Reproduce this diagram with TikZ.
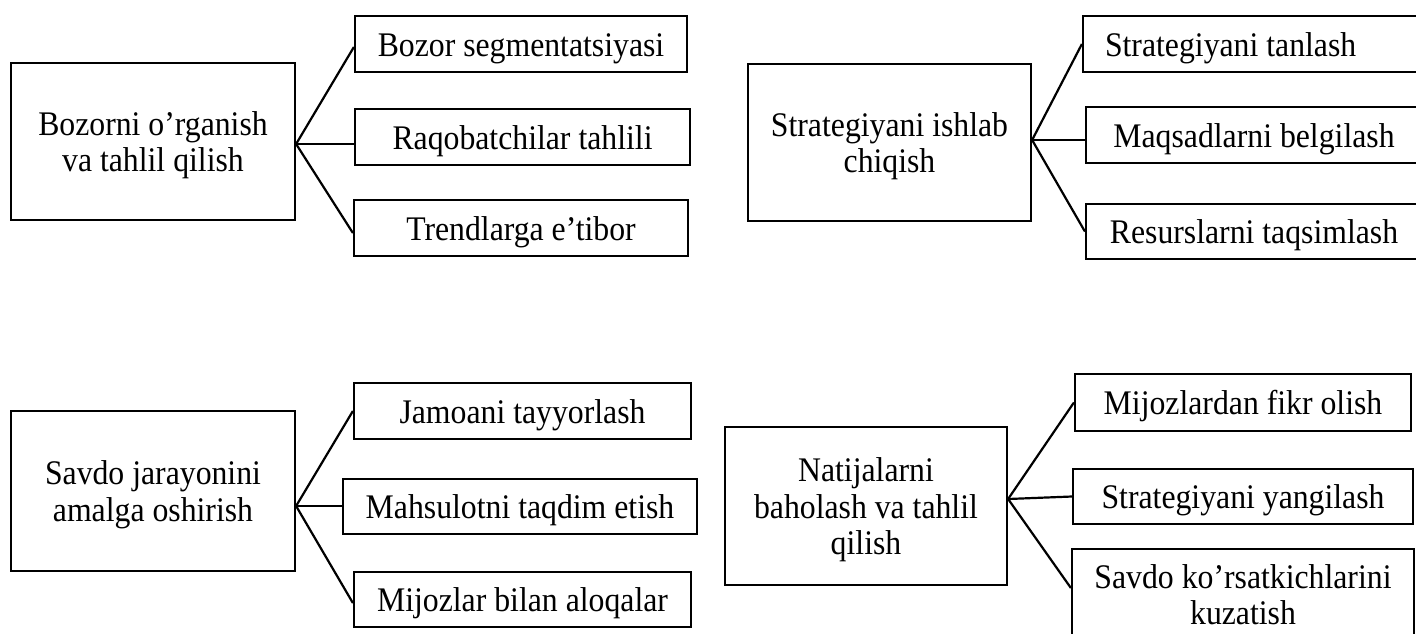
\documentclass[tikz,border=0pt]{standalone}
\usepackage{fontspec}
\setmainfont{Liberation Serif}[FakeStretch=0.92]
\begin{document}
\begin{tikzpicture}[x=0.5pt,y=-0.5pt,
  box/.style={draw, line width=1.1pt, inner sep=0pt, align=center,
    text height=14pt, text depth=2pt, font=\fontsize{17.25pt}{18.25pt}\selectfont},
  twoline/.style={text height=32.25pt},
  threeline/.style={text height=50.5pt},
  link/.style={line width=1.1pt}]
\useasboundingbox (0,0) rectangle (1416,633);
\fill[white] (0,0) rectangle (1416,633);
\clip (0,0) rectangle (1416,633);

% Panel 1
\node[box, twoline, minimum width=142pt, minimum height=78.5pt] (M1) at (153,141.5) {Bozorni o’rganish\\va tahlil qilish};
\node[box, minimum width=166pt, minimum height=28pt] (A1) at (521,44) {Bozor segmentatsiyasi};
\node[box, minimum width=167.5pt, minimum height=28pt] (A2) at (522.5,137) {Raqobatchilar tahlili};
\node[box, minimum width=167pt, minimum height=28pt] (A3) at (521,228) {Trendlarga e’tibor};
\coordinate (J1) at ([yshift=-1.25pt]M1.east);
\draw[link] (J1) -- ([yshift=-1.5pt]A1.west);
\draw[link] (J1) -- (J1 -| A2.west);
\draw[link] (J1) -- ([yshift=-2.5pt]A3.west);

% Panel 2
\node[box, twoline, minimum width=141.5pt, minimum height=78.5pt] (M2) at (889.5,142.5) {Strategiyani ishlab\\chiqish};
\node[box, inner xsep=11pt, minimum height=28pt] (B1) at (1253,44) {\makebox[148pt][l]{Strategiyani tanlash}};
\node[box, minimum width=168pt, minimum height=28pt] (B2) at (1254,135) {Maqsadlarni belgilash};
\node[box, minimum width=168pt, minimum height=27.5pt] (B3) at (1254,231.5) {Resurslarni taqsimlash};
\coordinate (J2) at ([yshift=1.25pt]M2.east);
\draw[link] (J2) -- (B1.west);
\draw[link] (J2) -- (J2 -| B2.west);
\draw[link] (J2) -- (B3.west);

% Panel 3
\node[box, twoline, minimum width=142pt, minimum height=80pt] (M3) at (153,491) {Savdo jarayonini\\amalga oshirish};
\node[box, minimum width=168.5pt, minimum height=28pt] (C1) at (522.5,411) {Jamoani tayyorlash};
\node[box, minimum width=177pt, minimum height=27.5pt] (C2) at (520,506.5) {Mahsulotni taqdim etish};
\node[box, minimum width=168.5pt, minimum height=27.5pt] (C3) at (522.5,599.5) {Mijozlar bilan aloqalar};
\coordinate (J3) at ([yshift=-7.5pt]M3.east);
\draw[link] (J3) -- (C1.west);
\draw[link] (J3) -- (J3 -| C2.west);
\draw[link] (J3) -- ([yshift=-1.75pt]C3.west);

% Panel 4
\node[box, threeline, minimum width=141pt, minimum height=79pt] (M4) at (866,506) {Natijalarni\\baholash va tahlil\\qilish};
\node[box, minimum width=168pt, minimum height=28.5pt] (D1) at (1243,402.5) {Mijozlardan fikr olish};
\node[box, minimum width=170pt, minimum height=27.5pt] (D2) at (1243,496.5) {Strategiyani yangilash};
\node[box, twoline, minimum width=171pt, minimum height=45.5pt] (D3) at (1243,594.5) {Savdo ko’rsatkichlarini\\kuzatish};
\coordinate (J4) at ([yshift=3.5pt]M4.east);
\draw[link] (J4) -- (D1.west);
\draw[link] (J4) -- (D2.west);
\draw[link] (J4) -- ([yshift=3.25pt]D3.west);
\end{tikzpicture}
\end{document}
